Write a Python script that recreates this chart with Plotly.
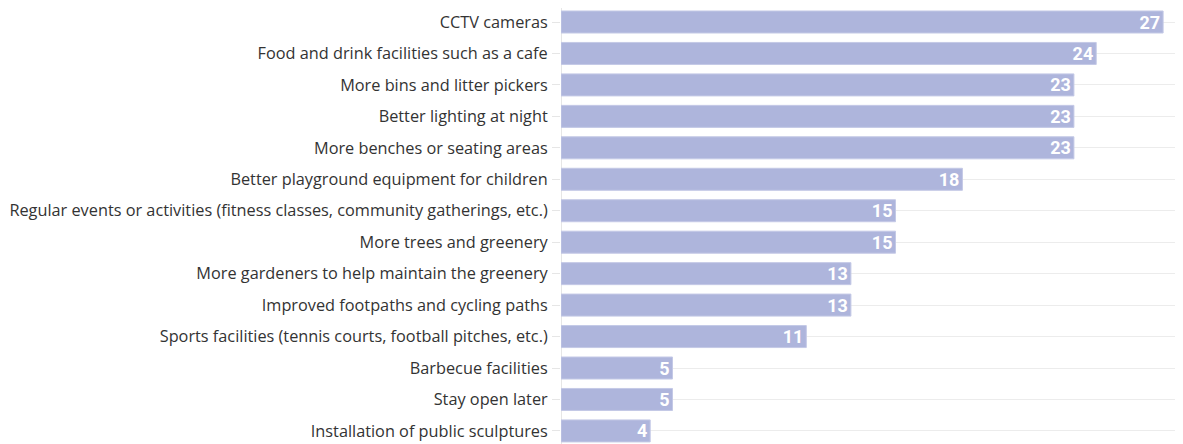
import plotly.graph_objects as go

labels = [
    "CCTV cameras",
    "Food and drink facilities such as a cafe",
    "More bins and litter pickers",
    "Better lighting at night",
    "More benches or seating areas",
    "Better playground equipment for children",
    "Regular events or activities (fitness classes, community gatherings, etc.)",
    "More trees and greenery",
    "More gardeners to help maintain the greenery",
    "Improved footpaths and cycling paths",
    "Sports facilities (tennis courts, football pitches, etc.)",
    "Barbecue facilities",
    "Stay open later",
    "Installation of public sculptures",
]
values = [27, 24, 23, 23, 23, 18, 15, 15, 13, 13, 11, 5, 5, 4]

fig = go.Figure(
    go.Bar(
        x=values,
        y=labels,
        orientation="h",
        marker=dict(color="#aeb5dc", line=dict(color="#c4c9e6", width=1)),
        text=[str(v) for v in values],
        textposition="inside",
        insidetextanchor="end",
        textangle=0,
        constraintext="none",
        textfont=dict(family="Liberation Sans Narrow, Roboto, Arial", size=18, color="white", weight="bold"),
        cliponaxis=False,
        width=0.7,
    )
)

# page body has an 8px margin, so the plot area is shifted to compensate
fig.update_layout(
    width=1183,
    height=444,
    margin=dict(l=553, r=0, t=0, b=0),
    plot_bgcolor="white",
    paper_bgcolor="white",
    showlegend=False,
    font=dict(family="Open Sans, Arial", size=16.3, color="#333333"),
    xaxis=dict(
        range=[0, 28.25],
        showgrid=False,
        showticklabels=False,
        zeroline=True,
        zerolinecolor="#e6e6e6",
        zerolinewidth=1,
        fixedrange=True,
    ),
    yaxis=dict(
        range=[13.67, -0.445],
        showgrid=True,
        gridcolor="#ececec",
        ticks="outside",
        ticklen=8,
        tickcolor="#e6e6e6",
        ticklabelstandoff=1,
        automargin=False,
    ),
)

fig.write_html("out.html")
